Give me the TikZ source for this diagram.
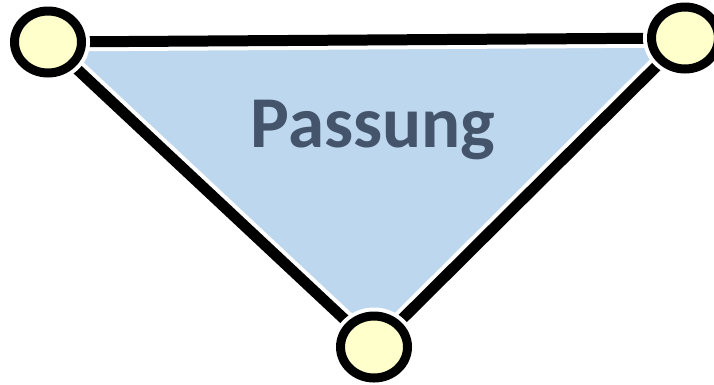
\documentclass[tikz,border=0pt]{standalone}
\usepackage{fontspec}
\newfontfamily\labelfont{Carlito}
\usetikzlibrary{shapes.geometric}
\definecolor{areafill}{HTML}{BDD7EE}
\definecolor{vertexfill}{HTML}{FFFFCC}
\definecolor{labeltext}{HTML}{44546A}
\tikzset{
  edge/.style={line width=11pt, preaction={draw=white, line width=19pt}},
  vertex/.style={ellipse, draw=black, line width=9pt, fill=vertexfill,
    minimum width=67pt, minimum height=62pt,
    preaction={draw=white, line width=17pt}}
}
\begin{document}
\begin{tikzpicture}[x=1pt,y=-1pt]
    \useasboundingbox (0,0) rectangle (714,384);
    % Ecken
    \coordinate (links) at (48,42);
    \coordinate (rechts) at (685,38);
    \coordinate (unten) at (374,347);

    % Flaeche
    \fill[areafill] (links) -- (rechts) -- (unten) -- cycle;
    \node[font=\labelfont\bfseries\fontsize{73}{80}\selectfont, text=labeltext,
      anchor=base] (titel) at (373,147) {Passung};

    % Kanten
    \draw[edge] (links) -- (rechts);
    \draw[edge] (links) -- (unten);
    \draw[edge] (rechts) -- (unten);

    \node[vertex] (kreislinks) at (links) {};
    \node[vertex] (kreisrechts) at (rechts) {};
    \node[vertex] (kreisunten) at (unten) {};
\end{tikzpicture}
\end{document}
